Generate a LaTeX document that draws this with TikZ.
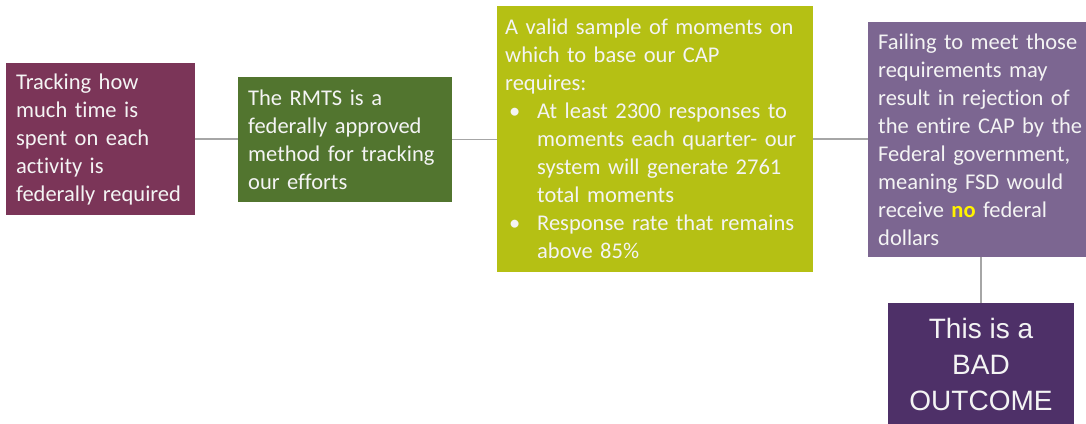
\documentclass[tikz,border=0pt]{standalone}
\usepackage{fontspec}
\setmainfont{Carlito}[Ligatures=NoCommon]
\newfontfamily\arialfont{Liberation Sans}
\usetikzlibrary{positioning}
\definecolor{trackred}{HTML}{7B3558}
\definecolor{rmtsgreen}{HTML}{52752F}
\definecolor{sampleolive}{HTML}{B5C014}
\definecolor{failpurple}{HTML}{7C6691}
\definecolor{badpurple}{HTML}{4E3068}
\definecolor{linkgray}{HTML}{A6A6A6}
\definecolor{boxtext}{HTML}{F4F4F4}
\newcommand{\itembul}{\hspace*{4pt}\makebox[28pt][l]{\textbullet}}
\newcommand{\itemgap}{\hspace*{32pt}}

\begin{document}
\begin{tikzpicture}[x=1pt, y=1pt,
  box/.style={rectangle, fill=#1, text=boxtext, anchor=north west, align=left,
    inner xsep=10pt, inner ysep=0pt, font=\fontsize{22.5}{28}\selectfont},
  link/.style={draw=linkgray, line width=1.6pt}]
  \fill[white] (0,0) rectangle (1086,423);
  \clip (0,0) rectangle (1086,423);
  % chain of boxes along the middle
  \node[box=trackred, text width=169pt, minimum height=152pt] (track) at (6,360)
    {Tracking how\\much time is\\spent on each\\activity is\\federally required};
  \node[box=rmtsgreen, text width=194pt, minimum height=125pt] (rmts) at (238,346)
    {The RMTS is a\\federally approved\\method for tracking\\our efforts};
  \node[box=sampleolive, text width=300pt, inner xsep=8pt, minimum height=266pt] (sample) at (497,417)
    {A valid sample of moments on\\which to base our CAP\\requires:\\
     \itembul At least 2300 responses to\\\itemgap moments each quarter- our\\
     \itemgap system will generate 2761\\\itemgap total moments\\
     \itembul Response rate that remains\\\itemgap above 85\%};
  % right edge runs off the page, as in the slide
  \node[box=failpurple, text width=214pt, minimum height=235pt] (fail) at (868,401)
    {Failing to meet those\\requirements may\\result in rejection of\\the entire CAP by the\\
     Federal government,\\meaning FSD would\\receive {\bfseries\color{yellow}no} federal\\dollars};
  % outcome box, cut off by the lower edge
  \node[rectangle, fill=badpurple, text=boxtext, anchor=north, align=center,
    minimum width=186pt, minimum height=122pt, inner sep=0pt,
    font=\arialfont\fontsize{28}{36}\selectfont] (bad) at (981,120)
    {This is a\\BAD\\OUTCOME};
  % connectors
  \draw[link] (track.east) -- (track.east -| rmts.west);
  \draw[link] (rmts.east) -- (rmts.east -| sample.west);
  \draw[link] (sample.east) -- (sample.east -| fail.west);
  \draw[link] (fail.south -| bad.north) -- (bad.north);
\end{tikzpicture}
\end{document}
